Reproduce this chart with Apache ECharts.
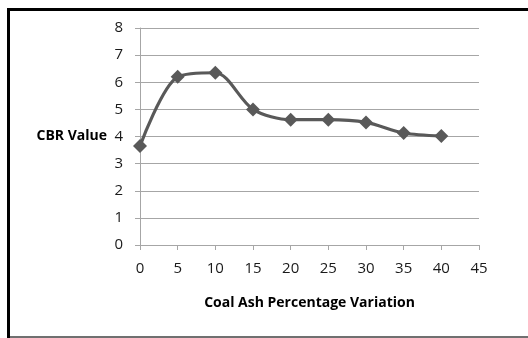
<!DOCTYPE html>
<html>
<head>
<meta charset="utf-8">
<script src="https://cdn.jsdelivr.net/npm/echarts@6/dist/echarts.min.js"></script>
<style>
  html, body { margin: 0; padding: 0; background: #fff; }
  #chart { width: 528px; height: 338px; }
</style>
</head>
<body>
<div id="chart"></div>
<script>
// data
var ashPercent = [0, 5, 10, 15, 20, 25, 30, 35, 40];
var cbrValue = [3.65, 6.2, 6.35, 5.0, 4.62, 4.62, 4.52, 4.13, 4.02];

var chart = echarts.init(document.getElementById('chart'));
var gray = '#595959';
var axisGray = '#a6a6a6';
var font = '"Open Sans", sans-serif';

var option = {
  animation: false,
  grid: { left: 140, right: 49, top: 28, bottom: 93, containLabel: false },
  graphic: [
    // frame round the chart
    { type: 'rect', shape: { x: 7, y: 8, width: 530, height: 3 }, style: { fill: '#000' } },
    { type: 'rect', shape: { x: 7, y: 8, width: 3, height: 340 }, style: { fill: '#000' } },
    { type: 'rect', shape: { x: 10, y: 336, width: 520, height: 2 }, style: { fill: '#707070' } }
  ],
  xAxis: {
    type: 'value',
    min: 0, max: 45, interval: 5,
    name: 'Coal Ash Percentage Variation',
    nameLocation: 'middle',
    nameGap: 51,
    nameTextStyle: { fontFamily: font, fontWeight: 'bold', fontSize: 14, color: '#000' },
    axisLine: { lineStyle: { color: axisGray, width: 1 } },
    axisTick: { show: true, length: 5, lineStyle: { color: axisGray } },
    axisLabel: { margin: 16, fontFamily: font, fontSize: 15, color: '#1a1a1a' },
    splitLine: { show: false }
  },
  yAxis: {
    type: 'value',
    min: 0, max: 8, interval: 1,
    name: 'CBR Value',
    nameLocation: 'middle',
    nameRotate: 0,
    nameGap: 33,
    nameTextStyle: { fontFamily: font, fontWeight: 'bold', fontSize: 14, color: '#000', align: 'right', verticalAlign: 'middle' },
    axisLine: { show: true, lineStyle: { color: axisGray, width: 1 } },
    axisTick: { show: true, length: 5, lineStyle: { color: axisGray } },
    axisLabel: { margin: 17, fontFamily: font, fontSize: 15, color: '#1a1a1a' },
    splitLine: { show: true, lineStyle: { color: axisGray, width: 1 } }
  },
  series: [{
    type: 'line',
    data: ashPercent.map(function (x, i) { return [x, cbrValue[i]]; }),
    smooth: 0.3,
    symbol: 'diamond',
    symbolSize: 14,
    lineStyle: { color: gray, width: 3.2 },
    itemStyle: { color: gray }
  }]
};

chart.setOption(option);
</script>
</body>
</html>
